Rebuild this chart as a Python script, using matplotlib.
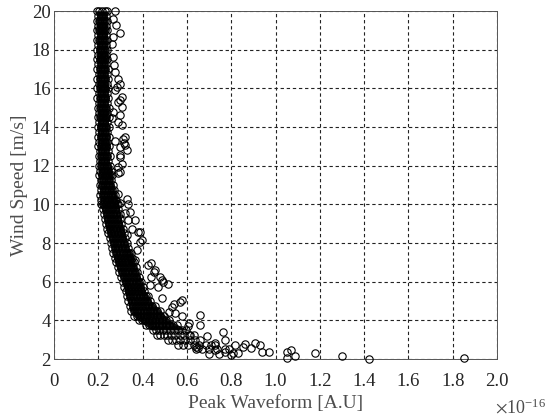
import numpy as np
import matplotlib.pyplot as plt
from matplotlib.ticker import FixedLocator

plt.rcParams['font.family'] = ['Liberation Serif', 'DejaVu Serif']
plt.rcParams['mathtext.fontset'] = 'stix'

# Peak waveform values are in units of 1e-16 A.U
# dense core of the cloud, one row of peaks per wind speed
core_speed = [20.0, 19.75, 19.5, 19.25, 19.0, 18.75, 18.5, 18.25, 18.0, 17.75,
              17.5, 17.25, 17.0, 16.75, 16.5, 16.25, 16.0, 15.75, 15.5, 15.25,
              15.0, 14.75, 14.5, 14.25, 14.0, 13.75, 13.5, 13.25, 13.0, 12.75,
              12.5, 12.25, 12.0, 11.75, 11.5, 11.25, 11.0, 10.75, 10.5, 10.25,
              10.0, 9.75, 9.5, 9.25, 9.0, 8.75, 8.5, 8.25, 8.0, 7.75,
              7.5, 7.25, 7.0, 6.75, 6.5, 6.25, 6.0, 5.75, 5.5, 5.25,
              5.0, 4.75, 4.5, 4.25, 4.0, 3.75, 3.5, 3.25, 3.0, 2.75,
              2.5, 2.25]
core_peak = [
    [0.192, 0.204, 0.216, 0.228, 0.238],
    [0.198, 0.210, 0.222, 0.234],
    [0.192, 0.204, 0.216, 0.228, 0.238],
    [0.198, 0.210, 0.222, 0.234],
    [0.193, 0.205, 0.217, 0.229, 0.239],
    [0.199, 0.211, 0.223, 0.235],
    [0.193, 0.205, 0.217, 0.229, 0.239],
    [0.199, 0.211, 0.223, 0.235],
    [0.194, 0.206, 0.218, 0.230, 0.240],
    [0.200, 0.212, 0.224, 0.236],
    [0.194, 0.206, 0.218, 0.230, 0.241],
    [0.200, 0.212, 0.224, 0.236],
    [0.195, 0.207, 0.219, 0.231, 0.242],
    [0.201, 0.213, 0.225, 0.237],
    [0.195, 0.207, 0.219, 0.231, 0.243],
    [0.201, 0.213, 0.225, 0.237],
    [0.196, 0.208, 0.220, 0.232, 0.244],
    [0.202, 0.214, 0.226, 0.238],
    [0.196, 0.208, 0.220, 0.232, 0.245],
    [0.202, 0.214, 0.226, 0.238],
    [0.197, 0.209, 0.221, 0.233, 0.246],
    [0.203, 0.215, 0.227, 0.239],
    [0.197, 0.209, 0.221, 0.233, 0.247],
    [0.203, 0.215, 0.227, 0.239],
    [0.198, 0.210, 0.222, 0.234, 0.248],
    [0.204, 0.216, 0.228, 0.240],
    [0.199, 0.211, 0.223, 0.235, 0.249],
    [0.205, 0.217, 0.229, 0.241],
    [0.200, 0.212, 0.224, 0.236, 0.250],
    [0.206, 0.218, 0.230, 0.242],
    [0.201, 0.213, 0.225, 0.237, 0.252],
    [0.207, 0.219, 0.231, 0.243],
    [0.202, 0.214, 0.226, 0.238, 0.254],
    [0.208, 0.220, 0.232, 0.244, 0.256],
    [0.204, 0.216, 0.228, 0.240, 0.252, 0.260],
    [0.210, 0.222, 0.234, 0.246, 0.258],
    [0.206, 0.218, 0.230, 0.242, 0.254, 0.266],
    [0.212, 0.224, 0.236, 0.248, 0.260, 0.270],
    [0.208, 0.220, 0.232, 0.244, 0.256, 0.268, 0.276],
    [0.214, 0.226, 0.238, 0.250, 0.262, 0.274, 0.282],
    [0.211, 0.223, 0.235, 0.247, 0.259, 0.271, 0.283, 0.288],
    [0.220, 0.234, 0.248, 0.262, 0.276, 0.290],
    [0.226, 0.240, 0.254, 0.268, 0.282, 0.296],
    [0.229, 0.243, 0.257, 0.271, 0.285, 0.299],
    [0.234, 0.248, 0.262, 0.276, 0.290, 0.304],
    [0.240, 0.254, 0.268, 0.282, 0.296, 0.310],
    [0.245, 0.259, 0.273, 0.287, 0.301, 0.315],
    [0.251, 0.265, 0.279, 0.293, 0.307, 0.321],
    [0.258, 0.272, 0.286, 0.300, 0.314, 0.328],
    [0.263, 0.277, 0.291, 0.305, 0.319, 0.333],
    [0.268, 0.282, 0.296, 0.310, 0.324, 0.338, 0.348],
    [0.274, 0.288, 0.302, 0.316, 0.330, 0.344, 0.354],
    [0.280, 0.294, 0.308, 0.322, 0.336, 0.350, 0.360],
    [0.287, 0.301, 0.315, 0.329, 0.343, 0.357, 0.368],
    [0.294, 0.308, 0.322, 0.336, 0.350, 0.364, 0.376],
    [0.302, 0.316, 0.330, 0.344, 0.358, 0.372, 0.384],
    [0.312, 0.326, 0.340, 0.354, 0.368, 0.382, 0.392],
    [0.318, 0.332, 0.346, 0.360, 0.374, 0.388, 0.400],
    [0.324, 0.338, 0.352, 0.366, 0.380, 0.394, 0.408],
    [0.330, 0.344, 0.358, 0.372, 0.386, 0.400, 0.414, 0.424],
    [0.336, 0.350, 0.364, 0.378, 0.392, 0.406, 0.420, 0.434],
    [0.342, 0.356, 0.370, 0.384, 0.398, 0.412, 0.426, 0.442, 0.456],
    [0.348, 0.362, 0.376, 0.390, 0.404, 0.418, 0.432, 0.448, 0.464, 0.478],
    [0.362, 0.376, 0.390, 0.404, 0.418, 0.432, 0.448, 0.464, 0.480, 0.496],
    [0.385, 0.399, 0.413, 0.427, 0.441, 0.456, 0.472, 0.488, 0.504, 0.520],
    [0.415, 0.429, 0.443, 0.457, 0.472, 0.488, 0.504, 0.520, 0.538, 0.556],
    [0.445, 0.459, 0.474, 0.490, 0.506, 0.522, 0.540, 0.558, 0.578, 0.598],
    [0.465, 0.480, 0.496, 0.512, 0.530, 0.548, 0.568, 0.588, 0.610, 0.632],
    [0.515, 0.532, 0.550, 0.570, 0.590, 0.612, 0.636, 0.660],
    [0.560, 0.582, 0.606, 0.630, 0.656, 0.684, 0.710],
    [0.640, 0.670, 0.700, 0.735, 0.770],
    [0.700, 0.745],
]

# scattered points around the core
outer_peak = [0.275, 0.268, 0.278, 0.298, 0.268, 0.262, 0.268, 0.270, 0.275, 0.290,
              0.298, 0.283, 0.275, 0.305, 0.298, 0.290, 0.305, 0.268, 0.298, 0.262,
              0.290, 0.305, 0.320, 0.313, 0.275, 0.315, 0.320, 0.298, 0.328, 0.298,
              0.298, 0.305, 0.290, 0.298, 0.290, 0.290, 0.328, 0.335, 0.298, 0.343,
              0.320, 0.333, 0.366, 0.350, 0.380, 0.388, 0.328, 0.396, 0.390, 0.373,
              0.366, 0.440, 0.426, 0.456, 0.450, 0.440, 0.479, 0.486, 0.493, 0.516,
              0.433, 0.470, 0.486, 0.577, 0.569, 0.540, 0.531, 0.546, 0.520, 0.580,
              0.660, 0.660, 0.610, 0.606, 0.614, 0.690, 0.765, 0.770, 0.727, 0.640,
              0.650, 0.727, 0.727, 0.770, 0.800, 0.830, 0.817, 0.855, 0.862, 0.890,
              0.907, 0.930, 0.940, 0.970, 0.790, 0.810, 1.050, 1.070, 1.050, 1.090,
              1.180, 1.300, 1.420, 1.850]
outer_speed = [20.00, 19.60, 19.26, 18.85, 18.66, 18.30, 17.60, 17.20, 16.85, 16.50,
               16.25, 16.07, 15.90, 15.56, 15.38, 15.30, 15.04, 14.78, 14.60, 14.45,
               14.26, 14.09, 13.50, 13.40, 13.30, 13.15, 13.06, 12.97, 12.80, 12.54,
               12.45, 12.10, 11.94, 11.68, 11.60, 10.56, 10.30, 10.00, 10.06, 9.60,
               9.53, 9.18, 9.18, 8.75, 8.58, 8.58, 8.40, 8.15, 8.06, 7.63,
               7.12, 6.96, 6.86, 6.60, 6.50, 6.25, 6.25, 6.08, 6.00, 5.90,
               5.82, 5.73, 5.14, 5.05, 4.96, 4.85, 4.70, 4.36, 4.45, 4.20,
               4.27, 3.76, 3.86, 3.70, 3.24, 3.20, 3.41, 2.98, 2.83, 2.64,
               2.55, 2.72, 2.46, 2.38, 2.20, 2.30, 2.72, 2.62, 2.78, 2.57,
               2.85, 2.72, 2.38, 2.38, 2.50, 2.30, 2.38, 2.46, 2.05, 2.15,
               2.33, 2.15, 2.00, 2.05]

x_ticks = [0, 0.2, 0.4, 0.6, 0.8, 1.0, 1.2, 1.4, 1.6, 1.8, 2.0]
x_tick_labels = ['0', '0.2', '0.4', '0.6', '0.8', '1.0', '1.2', '1.4', '1.6', '1.8', '2.0']
y_ticks = [2, 4, 6, 8, 10, 12, 14, 16, 18, 20]

peak = [p for row in core_peak for p in row] + outer_peak
speed = [s for s, row in zip(core_speed, core_peak) for _ in row] + outer_speed

# the markers overlap so much in the core that it prints solid black
solid = [(s, min(r), max(r)) for s, r in zip(core_speed, core_peak) if s >= 3.5]
solid_speed = [t[0] for t in solid]
solid_left = np.array([t[1] for t in solid])
solid_right = np.array([t[2] for t in solid])

fig = plt.figure(figsize=(5.5, 4.18), dpi=100)
ax = fig.add_axes([0.0982, 0.1411, 0.8055, 0.8325])

ax.fill_betweenx(solid_speed, solid_left - 0.006, solid_right + 0.006,
                 color='#111111', lw=0, zorder=3)
ax.plot(peak, speed, 'o', ms=5.3, mfc='none', mec='k', mew=0.8, ls='none',
        zorder=4, clip_on=False)

ax.set_xlim(0, 2.0)
ax.set_ylim(2, 20)
ax.xaxis.set_major_locator(FixedLocator(x_ticks))
ax.set_xticklabels(x_tick_labels)
ax.yaxis.set_major_locator(FixedLocator(y_ticks))

ax.grid(True, color='#222222', linestyle=(0, (3, 2.5)), linewidth=0.8)
ax.set_axisbelow(True)
ax.tick_params(direction='in', length=3, width=0.6, labelsize=13.5,
               colors='#262626', top=False, right=False)
ax.tick_params(axis='x', pad=10)
ax.tick_params(axis='y', pad=2.5)
for sp in ax.spines.values():
    sp.set_color('#555555')
    sp.set_linewidth(0.7)

ax.set_xlabel('Peak Waveform [A.U]', fontsize=14, color='#4d4d4d', labelpad=4)
ax.set_ylabel('Wind Speed [m/s]', fontsize=14, color='#4d4d4d', labelpad=3)
ax.text(0.995, -0.158, r'$\times\mathregular{10^{-16}}$', transform=ax.transAxes,
        fontsize=13, color='#4d4d4d', ha='left', va='baseline')

fig.savefig('out.png', dpi=100)
